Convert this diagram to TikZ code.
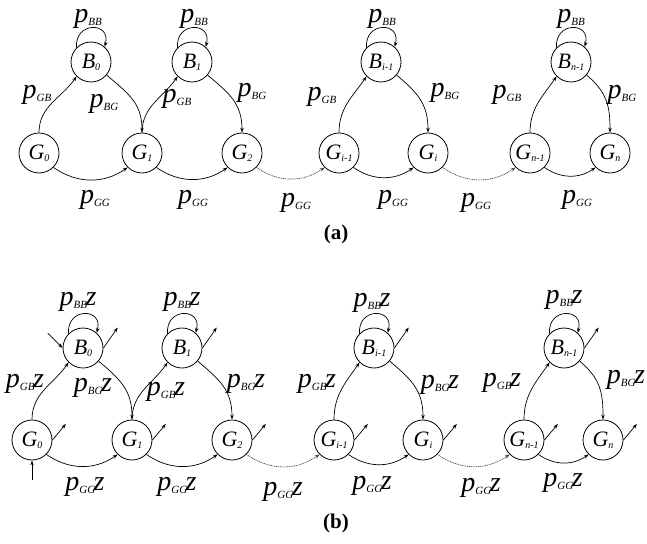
\documentclass[tikz,border=0pt]{standalone}
\usepackage{fontspec}
\setmainfont{Liberation Serif}
\usetikzlibrary{arrows.meta,positioning,calc}

\newcommand{\plab}[1]{{\fontsize{28}{28}\selectfont\itshape p}\raisebox{-2.5pt}{\fontsize{11}{11}\selectfont\itshape #1}}
\newcommand{\plabz}[1]{\plab{#1}\kern-1.5pt{\fontsize{28}{28}\selectfont\itshape z}}
\newcommand{\slab}[2]{{\fontsize{22}{22}\selectfont\itshape #1}\raisebox{-2pt}{\fontsize{10}{10}\selectfont\itshape #2}}

\begin{document}
\begin{tikzpicture}[x=1pt,y=1pt,
  state/.style={draw,circle,minimum size=40pt,inner sep=0pt,line width=0.8pt},
  arr/.style={-{Stealth[length=5pt,width=3.5pt]},line width=0.7pt},
  farto/.style={arr,black!75,dash pattern=on 1pt off 0.8pt},
  lbl/.style={inner sep=0pt},
  subcap/.style={font=\fontsize{21}{21}\selectfont\bfseries}]
\useasboundingbox (0,0) rectangle (647,-543);
% (a)
\node[state] (Ga0) at (39,-153) {\slab{G}{0}};
\node[state] (Ga1) at (142,-153) {\slab{G}{1}};
\node[state] (Ga2) at (242,-153) {\slab{G}{2}};
\node[state] (Ga3) at (339,-153) {\slab{G}{i-1}};
\node[state] (Ga4) at (428,-153) {\slab{G}{i}};
\node[state] (Ga5) at (530,-153) {\slab{G}{n-1}};
\node[state] (Ga6) at (610,-153) {\slab{G}{n}};
\node[state] (Ba0) at (91,-62) {\slab{B}{0}};
\node[state] (Ba1) at (192,-62) {\slab{B}{1}};
\node[state] (Ba3) at (381,-62) {\slab{B}{i-1}};
\node[state] (Ba5) at (571,-62) {\slab{B}{n-1}};
% (b)
\node[state] (Gb0) at (32,-440) {\slab{G}{0}};
\node[state] (Gb1) at (132,-440) {\slab{G}{1}};
\node[state] (Gb2) at (232,-440) {\slab{G}{2}};
\node[state] (Gb3) at (334,-440) {\slab{G}{i-1}};
\node[state] (Gb4) at (423,-440) {\slab{G}{i}};
\node[state] (Gb5) at (524,-440) {\slab{G}{n-1}};
\node[state] (Gb6) at (603,-440) {\slab{G}{n}};
\node[state] (Bb0) at (83,-348) {\slab{B}{0}};
\node[state] (Bb1) at (182,-348) {\slab{B}{1}};
\node[state] (Bb3) at (374,-348) {\slab{B}{i-1}};
\node[state] (Bb5) at (564,-348) {\slab{B}{n-1}};

\foreach \b in {Ba0,Ba1,Ba3,Ba5,Bb0,Bb1,Bb3,Bb5}
  \draw[arr] (\b.135) to[out=95,in=75,looseness=2.4] (\b.48);
\foreach \g/\b/\h in {Ga0/Ba0/Ga1,Ga1/Ba1/Ga2,Ga3/Ba3/Ga4,Ga5/Ba5/Ga6,
                      Gb0/Bb0/Gb1,Gb1/Bb1/Gb2,Gb3/Bb3/Gb4,Gb5/Bb5/Gb6} {
  \draw[arr] (\g.north) to[out=90,in=235] (\b.225);
  \draw[arr] (\b.-40) to[out=-40,in=90,looseness=1.1] (\h.north);
  \draw[arr] (\g.-45) to[out=-35,in=-145] (\h.-135);
}
\foreach \g/\h in {Ga2/Ga3,Ga4/Ga5,Gb2/Gb3,Gb4/Gb5}
  \draw[farto] (\g.-45) to[out=-35,in=-145] (\h.-135);

% open ends in (b)
\foreach \n in {Gb0,Gb1,Gb2,Gb3,Gb4,Gb5,Gb6} {
  \coordinate (\n-out) at ($(\n.east)+(50:21)$);
  \draw[arr] (\n.east) -- (\n-out);
}
\foreach \n in {Bb0,Bb1,Bb3,Bb5} {
  \coordinate (\n-out) at ($(\n.east)+(55:25)$);
  \draw[arr] (\n.east) -- (\n-out);
}
\coordinate (inB) at ($(Bb0.west)+(135:21)$);
\coordinate (inG) at ($(Gb0.south)+(0,-20)$);
\draw[arr] (inB) -- (Bb0.west);
\draw[arr] (inG) -- (Gb0.south);

% labels (a)
\node[lbl] (la1) at (88,-19) {\plab{BB}};
\node[lbl] (la2) at (194,-19) {\plab{BB}};
\node[lbl] (la3) at (382,-19) {\plab{BB}};
\node[lbl] (la4) at (571,-19) {\plab{BB}};
\node[lbl] (la5) at (37,-95) {\plab{GB}};
\node[lbl] (la6) at (104,-104) {\plab{BG}};
\node[lbl] (la7) at (177,-99) {\plab{GB}};
\node[lbl] (la8) at (252,-93) {\plab{BG}};
\node[lbl] (la9) at (322,-97) {\plab{GB}};
\node[lbl] (la10) at (445,-93) {\plab{BG}};
\node[lbl] (la11) at (507,-95) {\plab{GB}};
\node[lbl] (la12) at (622,-95) {\plab{BG}};
\node[lbl] (la13) at (95,-200) {\plab{GG}};
\node[lbl] (la14) at (193,-200) {\plab{GG}};
\node[lbl] (la15) at (296,-203) {\plab{GG}};
\node[lbl] (la16) at (393,-200) {\plab{GG}};
\node[lbl] (la17) at (476,-203) {\plab{GG}};
\node[lbl] (la18) at (577,-200) {\plab{GG}};
% labels (b)
\node[lbl] (lb1) at (78,-302) {\plabz{BB}};
\node[lbl] (lb2) at (182,-302) {\plabz{BB}};
\node[lbl] (lb3) at (372,-303) {\plabz{BB}};
\node[lbl] (lb4) at (564,-300) {\plabz{BB}};
\node[lbl] (lb5) at (25,-384) {\plabz{GB}};
\node[lbl] (lb6) at (93,-388) {\plabz{BG}};
\node[lbl] (lb7) at (166,-392) {\plabz{GB}};
\node[lbl] (lb8) at (246,-384) {\plabz{BG}};
\node[lbl] (lb9) at (317,-384) {\plabz{GB}};
\node[lbl] (lb10) at (440,-385) {\plabz{BG}};
\node[lbl] (lb11) at (502,-383) {\plabz{GB}};
\node[lbl] (lb12) at (626,-380) {\plabz{BG}};
\node[lbl] (lb13) at (85,-487) {\plabz{GG}};
\node[lbl] (lb14) at (177,-487) {\plabz{GG}};
\node[lbl] (lb15) at (283,-492) {\plabz{GG}};
\node[lbl] (lb16) at (372,-486) {\plabz{GG}};
\node[lbl] (lb17) at (481,-488) {\plabz{GG}};
\node[lbl] (lb18) at (563,-483) {\plabz{GG}};

\node[subcap] (capa) at (336,-234) {(a)};
\node[subcap] (capb) at (336,-523) {(b)};
\end{tikzpicture}
\end{document}
